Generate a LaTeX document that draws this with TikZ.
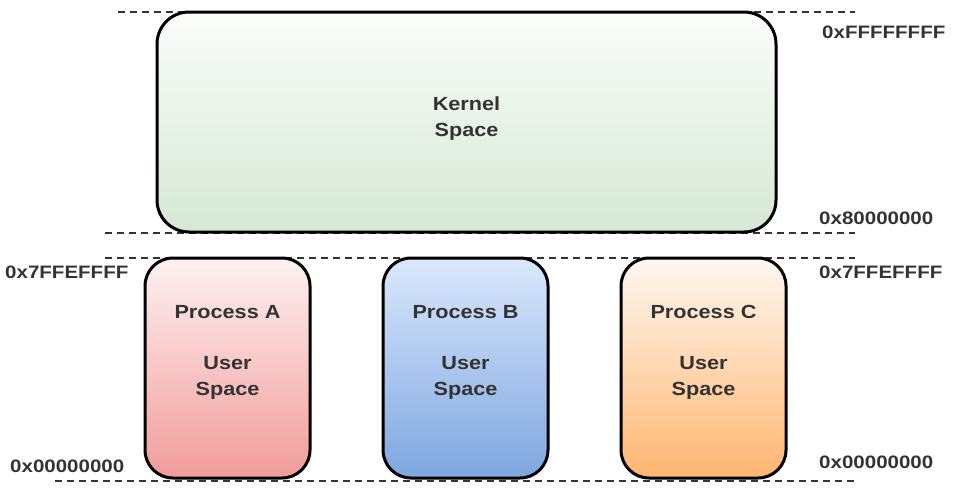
\documentclass[tikz,border=0pt]{standalone}
\usepackage{fontspec}
\setmainfont[FakeStretch=1.14]{Liberation Sans}
\usepackage{tikz}

\definecolor{ink}{HTML}{333333}
\definecolor{kerntop}{HTML}{FBFDFB}
\definecolor{kernbot}{HTML}{D5E8D4}
\definecolor{redtop}{HTML}{FDF1F1}
\definecolor{redbot}{HTML}{F19C99}
\definecolor{bluetop}{HTML}{DAE8FC}
\definecolor{bluebot}{HTML}{7EA6E0}
\definecolor{orgtop}{HTML}{FFF8F0}
\definecolor{orgbot}{HTML}{FFB570}

\begin{document}
\begin{tikzpicture}[x=1pt,y=-1pt,
  guide/.style={draw=ink,line width=2.6pt,dash pattern=on 7pt off 5pt},
  space/.style={rectangle,rounded corners=28pt,draw=black,line width=3pt,minimum height=220pt},
  proc/.style={space,minimum width=165pt},
  txt/.style={text=ink,font=\fontsize{19}{26}\selectfont\bfseries,align=center},
  addr/.style={text=ink,font=\fontsize{18}{22}\selectfont\bfseries,anchor=west,inner sep=0pt}]
\useasboundingbox (0,0) rectangle (974,493);

% address lines
\coordinate (topL) at (118,12);  \coordinate (topR) at (855,12);
\coordinate (midL) at (105,233); \coordinate (midR) at (855,233);
\coordinate (usrL) at (105,258); \coordinate (usrR) at (855,258);
\coordinate (botL) at (55,481);  \coordinate (botR) at (857,481);
\draw[guide] (topL) -- (topR);
\draw[guide] (midL) -- (midR);
\draw[guide] (usrL) -- (usrR);
\draw[guide] (botL) -- (botR);

% kernel
\node[space,minimum width=619pt,rounded corners=32pt,top color=kerntop,bottom color=kernbot] (kernel) at (466.5,122) {};
\node[txt] at ([yshift=3pt]kernel.center) {Kernel\\Space};

% processes
\node[proc,top color=redtop,bottom color=redbot] (procA) at (227.5,368) {};
\node[proc,top color=bluetop,bottom color=bluebot] (procB) at (465.5,368) {};
\node[proc,top color=orgtop,bottom color=orgbot] (procC) at (703.5,368) {};
\node[txt] at ([yshift=-96pt]procA.north) {Process A\\[25pt]User\\Space};
\node[txt] at ([yshift=-96pt]procB.north) {Process B\\[25pt]User\\Space};
\node[txt] at ([yshift=-96pt]procC.north) {Process C\\[25pt]User\\Space};

% addresses
\node[addr] (aFFFF) at (822,32) {0xFFFFFFFF};
\node[addr] (a8000) at (819,218) {0x80000000};
\node[addr] (a7FFl) at (5,272) {0x7FFEFFFF};
\node[addr] (a7FFr) at (819,272) {0x7FFEFFFF};
\node[addr] (a0000l) at (10,466) {0x00000000};
\node[addr] (a0000r) at (819,462) {0x00000000};
\end{tikzpicture}
\end{document}
